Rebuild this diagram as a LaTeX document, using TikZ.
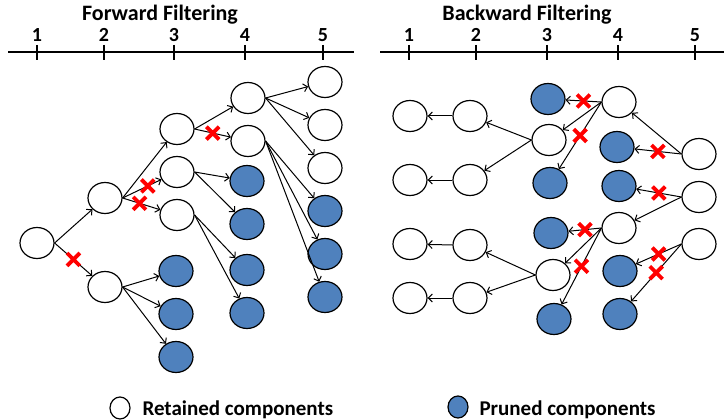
\documentclass[tikz,border=0pt]{standalone}
\usepackage{fontspec}
\setmainfont{Carlito}
\usetikzlibrary{arrows,arrows.meta,positioning,shapes.geometric,shapes.misc}
\definecolor{prunedblue}{HTML}{4F81BD}

\begin{document}
\begin{tikzpicture}[x=1pt,y=-1pt,node distance=43pt,>={Straight Barb[length=4pt,width=8pt]},
  comp/.style={ellipse,draw,line width=1.2pt,minimum width=34pt,minimum height=31pt,inner sep=0pt},
  kept/.style={comp,fill=white},
  pruned/.style={comp,fill=prunedblue},
  xmark/.style={cross out,draw=red,line width=3.8pt,minimum size=9pt,inner sep=0pt},
  link/.style={->,line width=1pt},
  lbl/.style={font=\bfseries\fontsize{20}{24}\selectfont}]
  \useasboundingbox (0,0) rectangle (724,420);

  % forward filtering
  \node[lbl,font=\bfseries\fontsize{22}{26}\selectfont] (f_title) at (160,15) {Forward Filtering};
  \draw[line width=1.2pt] (8,52) -- (354,52);
  \foreach \x [count=\i] in {37,104,174,245,323}
  { \draw[line width=1.2pt] (\x,45) -- (\x,60);
    \node[lbl] (f_t\i) at (\x,35) {\i}; }

  \node[kept]   (f_1)  at (37,243)  {};
  \node[kept]   (f_2a) at (105,198) {};
  \node[kept]   (f_2b) at (105,287) {};
  \node[kept]   (f_3a) at (177,129) {};
  \node[kept]   (f_3b) [below of=f_3a] {};
  \node[kept]   (f_3c) [below of=f_3b] {};
  \node[pruned] (f_3d) at (176,271) {};
  \node[pruned] (f_3e) [below of=f_3d] {};
  \node[pruned] (f_3f) [below of=f_3e] {};
  \node[kept]   (f_4a) at (248,98)  {};
  \node[kept]   (f_4b) [below of=f_4a] {};
  \node[pruned] (f_4c) at (247,181) {};
  \node[pruned] (f_4d) [below of=f_4c] {};
  \node[pruned] (f_4e) at (247,270) {};
  \node[pruned] (f_4f) [below of=f_4e] {};
  \node[kept]   (f_5a) at (325,82)  {};
  \node[kept]   (f_5b) [below of=f_5a] {};
  \node[kept]   (f_5c) [below of=f_5b] {};
  \node[pruned] (f_5d) [below of=f_5c] {};
  \node[pruned] (f_5e) [below of=f_5d] {};
  \node[pruned] (f_5f) [below of=f_5e] {};

  \path[link]
  (f_1.east)  edge                        (f_2a)
  (f_1.east)  edge node[xmark] {}         (f_2b)
  (f_2a.east) edge                        (f_3a)
  (f_2a.east) edge node[xmark,pos=0.65] {} (f_3b)
  (f_2a.east) edge node[xmark,pos=0.45] {} (f_3c)
  (f_2b.east) edge (f_3d)
  (f_2b.east) edge (f_3e)
  (f_2b.east) edge (f_3f)
  (f_3a.east) edge                        (f_4a)
  (f_3a.east) edge node[xmark] {}         (f_4b)
  (f_3b.east) edge (f_4c)
  (f_3b.east) edge (f_4d)
  (f_3c.east) edge (f_4e)
  (f_3c.east) edge (f_4f)
  (f_4a.east) edge (f_5a)
  (f_4a.east) edge (f_5b)
  (f_4a.east) edge (f_5c)
  (f_4b.east) edge (f_5d)
  (f_4b.east) edge (f_5e)
  (f_4b.east) edge (f_5f);

  % backward filtering
  \node[lbl,font=\bfseries\fontsize{22}{26}\selectfont] (b_title) at (527,15) {Backward Filtering};
  \draw[line width=1.2pt] (380,52) -- (724,52);
  \foreach \x [count=\i] in {409,476,547,618,695}
  { \draw[line width=1.2pt] (\x,45) -- (\x,60);
    \node[lbl] (b_t\i) at (\x,35) {\i}; }

  \node[kept]   (b_1a) at (410,116) {};
  \node[kept]   (b_1b) at (410,180) {};
  \node[kept]   (b_1c) at (410,244) {};
  \node[kept]   (b_1d) at (410,298) {};
  \node[kept]   (b_2a) at (470,116) {};
  \node[kept]   (b_2b) at (470,180) {};
  \node[kept]   (b_2c) at (470,245) {};
  \node[kept]   (b_2d) at (470,298) {};
  \node[pruned] (b_3a) at (548,99)  {};
  \node[kept]   (b_3b) at (549,140) {};
  \node[pruned] (b_3c) at (550,183) {};
  \node[pruned] (b_3d) at (551,233) {};
  \node[kept]   (b_3e) at (553,275) {};
  \node[pruned] (b_3f) at (554,319) {};
  \node[kept]   (b_4a) at (619,102) {};
  \node[pruned] (b_4b) at (617,147) {};
  \node[pruned] (b_4c) at (619,186) {};
  \node[kept]   (b_4d) at (619,228) {};
  \node[pruned] (b_4e) at (620,271) {};
  \node[pruned] (b_4f) at (620,314) {};
  \node[kept]   (b_5a) at (699,154) {};
  \node[kept]   (b_5b) at (699,197) {};
  \node[kept]   (b_5c) at (699,244) {};

  \path[link]
  (b_2a.west) edge (b_1a)
  (b_2b.west) edge (b_1b)
  (b_2c.west) edge (b_1c)
  (b_2d.west) edge (b_1d)
  (b_3b.west) edge (b_2a)
  (b_3b.west) edge (b_2b)
  (b_3e.west) edge (b_2c)
  (b_3e.west) edge (b_2d)
  (b_4a.west) edge node[xmark] {} (b_3a)
  (b_4a.west) edge                (b_3b)
  (b_4a.west) edge node[xmark] {} (b_3c)
  (b_4d.west) edge node[xmark] {} (b_3d)
  (b_4d.west) edge                (b_3e)
  (b_4d.west) edge node[xmark] {} (b_3f)
  (b_5a.west) edge                (b_4a)
  (b_5a.west) edge node[xmark] {} (b_4b)
  (b_5b.west) edge node[xmark] {} (b_4c)
  (b_5b.west) edge                (b_4d)
  (b_5c.west) edge node[xmark] {} (b_4e)
  (b_5c.west) edge node[xmark] {} (b_4f);

  % legend
  \node[kept,minimum width=20pt,minimum height=22pt]   (key_k) at (120,408) {};
  \node[lbl,anchor=west,font=\bfseries\fontsize{21}{24}\selectfont] (key_kt) at (139,410) {Retained components};
  \node[pruned,minimum width=20pt,minimum height=22pt] (key_p) at (458,407) {};
  \node[lbl,anchor=west,font=\bfseries\fontsize{21}{24}\selectfont] (key_pt) at (476,410) {Pruned components};
\end{tikzpicture}
\end{document}
